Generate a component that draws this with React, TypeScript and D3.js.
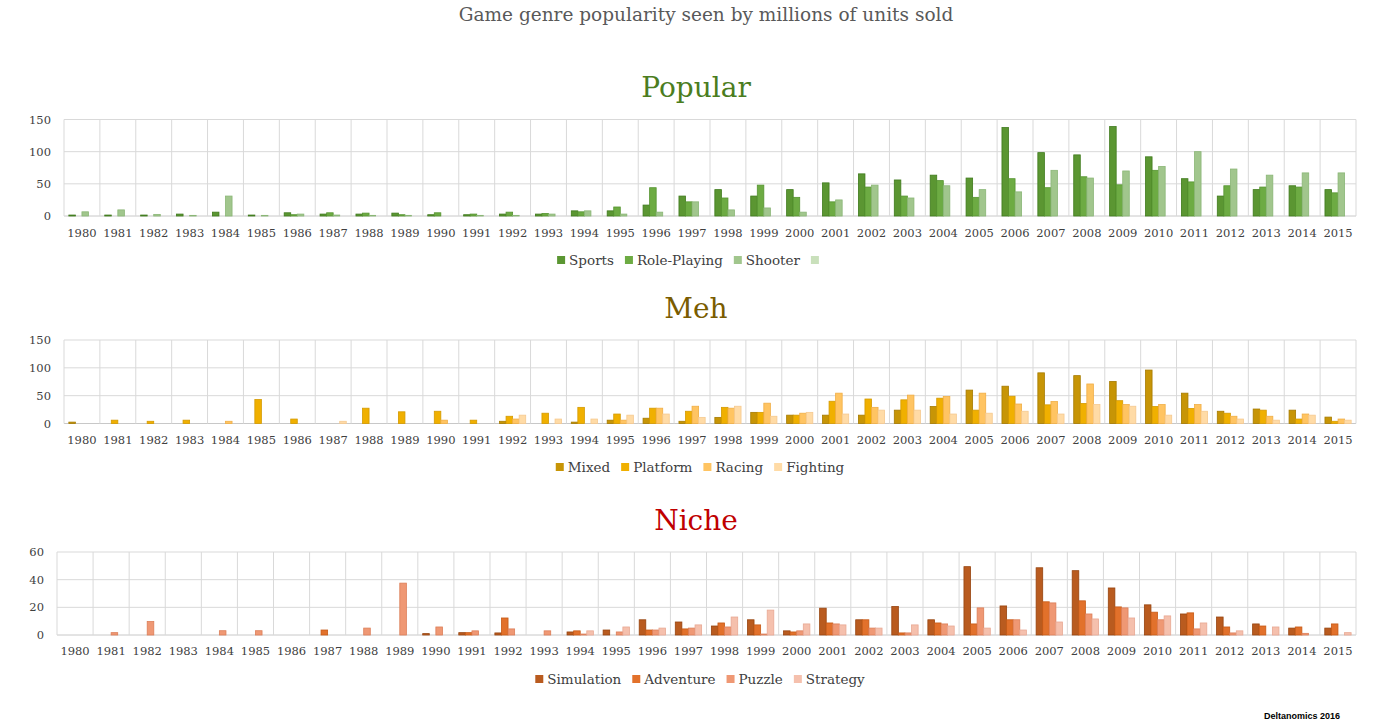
import React from "react";
import * as d3 from "d3";

const years = d3.range(1980, 2016).map(String);

// Popular
const sports = [1.5,1.5,1.5,3,6,1.5,5,3,3,4.5,2,2,3,3,8,8,17,31,41,31,41,51.5,65.5,56,63.5,59,137.5,98.5,95,139,92,58,31,41,47,41];
const rolePlaying = [0,0,0,0,0,0,2,5,4.5,2,5,3,6,4,6.5,14,44,22,28,48,29,22,45,31,55,29,58,44,61,48.5,71,53,47,45,45,36];
const shooter = [6.5,9.5,2.5,1,31,1,3,1.5,1,1,0,1,1,3,8,3,6,22,9.5,12.5,6,25,48,28,47,41,37.5,71,59,70,77,100,73,63.5,67,67];
const popularBlank = years.map(() => 0);

// Meh
const mixed = [2.5,0,0,0,0,0,0,0,0,0,0,0,4,0,2.5,6,9.5,4,11,20,15,15,15,24,30.5,60,67,91,86,75.5,96,54.5,22,26,24,11.5];
const platform = [0,6,4,6,0,43,8,0,27.5,21,22,6,13,18.5,29,17,27.5,22,29,20,15,40,44,42.5,45.5,24,49,33.5,36,41,30.5,27,18.5,24,8,4];
const racing = [0,0,0,0,4,0,0,0,0,0,6,0,8,0,0,6,27.5,31,27.5,36.5,18.5,54.5,29,51,48.5,54.5,35,39.5,71,34,34,34,13,13,17,8];
const fighting = [0,0,0,0,0,0,0,4,0,0,0,0,15,8,8,15,17,11,31,13,20,17,24,24,17,18.5,22,17,34,31,15,22,8,6,15,6];

// Niche
const simulation = [0,0,0,0,0,0,0,0,0,0,1,1.7,1.5,0,2.2,3.6,11,9.4,6.5,11,3,19.4,11,20.6,11,49.4,21,48.6,46.5,34,21.8,15.2,13,8,5,5];
const adventure = [0,0,0,0,0,0,0,3.6,0,0,0,1.7,12.3,0,3,0,3.6,4.4,8.7,7.3,2.2,8.7,11,1.5,8.7,8,11,24,24.7,20.3,16.5,16,5.8,6.5,5.8,8];
const puzzle = [0,1.7,9.7,0,3.1,3.1,0,0,5,37.5,5.8,3,4.4,3,0.7,2.2,3.6,5,5.8,0.7,3,8,5,1.5,8,19.6,11,23.2,15.2,19.6,11,4.4,1.5,0,1.2,0];
const strategy = [0,0,0,0,0,0,0,0,0,0,0,0,0,0,3,5.8,5,7.3,13,18,8,7.3,5,7.3,6.5,5,3.6,9.4,11.6,12.3,13.8,8.7,3,5.8,0,1.7];

const popularNames = ["Sports", "Role-Playing", "Shooter", ""];
const mehNames = ["Mixed", "Platform", "Racing", "Fighting"];
const nicheNames = ["Simulation", "Adventure", "Puzzle", "Strategy"];

const popularTicks = [0, 50, 100, 150];
const mehTicks = [0, 50, 100, 150];
const nicheTicks = [0, 20, 40, 60];

const FONT = "'DejaVu Serif', serif";

type Panel = {
  title: string;
  titleColor: string;
  titleY: number;
  names: string[];
  values: number[][];
  colors: string[];
  strokes: string[];
  ticks: number[];
  left: number;
  top: number;
  bottom: number;
  yearY: number;
  legendY: number;
};

const panels: Panel[] = [
  {
    title: "Popular", titleColor: "#4b7d1e", titleY: 97,
    names: popularNames, values: [sports, rolePlaying, shooter, popularBlank],
    colors: ["#5b9632", "#6dab43", "#a1c68d", "#c9e0bb"],
    strokes: ["#3f7a1c", "#559430", "#8ab676", "#b5d3a4"],
    ticks: popularTicks, left: 64, top: 119.5, bottom: 216, yearY: 237, legendY: 260,
  },
  {
    title: "Meh", titleColor: "#7a5c00", titleY: 318,
    names: mehNames, values: [mixed, platform, racing, fighting],
    colors: ["#c79506", "#f0b000", "#ffc462", "#ffdba6"],
    strokes: ["#a67b00", "#d49a00", "#f0ae45", "#f5c98f"],
    ticks: mehTicks, left: 64, top: 340, bottom: 423.5, yearY: 444, legendY: 467,
  },
  {
    title: "Niche", titleColor: "#c00000", titleY: 530,
    names: nicheNames, values: [simulation, adventure, puzzle, strategy],
    colors: ["#b95b1f", "#e2712b", "#ef9874", "#f5c0ad"],
    strokes: ["#97440f", "#c75a15", "#dc7e58", "#e8a893"],
    ticks: nicheTicks, left: 57, top: 552, bottom: 635, yearY: 655, legendY: 679,
  },
];

const RIGHT = 1356;

let ctx: CanvasRenderingContext2D | null = null;
function textWidth(s: string, font: string) {
  if (!ctx) ctx = document.createElement("canvas").getContext("2d");
  if (!ctx) return s.length * 7;
  ctx.font = font;
  return ctx.measureText(s).width;
}

function PanelChart({ p }: { p: Panel }) {
  const x = d3.scaleBand<string>().domain(years).range([p.left, RIGHT]).padding(0);
  const bw = x.bandwidth();
  const sub = d3.scaleBand<number>().domain([0, 1, 2, 3]).range([bw * 0.135, bw * 0.865]).padding(0);
  const max = p.ticks[p.ticks.length - 1];
  const y = d3.scaleLinear().domain([0, max]).range([p.bottom, p.top]);

  // legend layout
  const legSize = 13.5;
  const legFont = `${legSize}px ${FONT}`;
  const items = p.names.map((n) => ({ n, w: 12 + (n ? textWidth(n, legFont) : 20) }));
  const gap = 11;
  const total = items.reduce((a, b) => a + b.w, 0) + gap * (items.length - 1);
  let cx = 700 - total / 2;
  const legPos = items.map((it) => {
    const pos = cx;
    cx += it.w + gap;
    return pos;
  });

  return (
    <g>
      <text x={696} y={p.titleY} textAnchor="middle" fontFamily={FONT} fontSize={28} fill={p.titleColor}>
        {p.title}
      </text>
      {/* grid */}
      {p.ticks.map((t) => (
        <line key={"h" + t} x1={p.left} x2={RIGHT} y1={y(t)} y2={y(t)} stroke={t === 0 ? "#c8c8c8" : "#d9d9d9"} strokeWidth={1} />
      ))}
      {years.map((yr) => (
        <line key={"v" + yr} x1={x(yr)!} x2={x(yr)!} y1={p.top} y2={p.bottom} stroke="#d9d9d9" strokeWidth={1} />
      ))}
      <line x1={RIGHT} x2={RIGHT} y1={p.top} y2={p.bottom} stroke="#d9d9d9" strokeWidth={1} />
      {/* y tick labels */}
      {p.ticks.map((t) => (
        <text key={"t" + t} x={p.left - 13} y={y(t) + 4} textAnchor="end" fontFamily={FONT} fontSize={11.5} fill="#404040">
          {t}
        </text>
      ))}
      {/* bars */}
      {p.values.map((series, si) =>
        series.map((v, i) =>
          v > 0 ? (
            <rect
              key={si + "-" + i}
              x={x(years[i])! + sub(si)!}
              y={y(v)}
              width={sub.bandwidth()}
              height={p.bottom - y(v)}
              fill={p.colors[si]}
              stroke={p.strokes[si]}
              strokeWidth={0.8}
            />
          ) : null
        )
      )}
      {/* year labels */}
      {years.map((yr) => (
        <text key={"y" + yr} x={x(yr)! + bw / 2} y={p.yearY} textAnchor="middle" fontFamily={FONT} fontSize={11.5} fill="#404040">
          {yr}
        </text>
      ))}
      {/* legend */}
      {items.map((it, i) => (
        <g key={"l" + i}>
          <rect x={legPos[i]} y={p.legendY - 4} width={8} height={8} fill={p.colors[i]} />
          {it.n ? (
            <text x={legPos[i] + 12} y={p.legendY + 5} fontFamily={FONT} fontSize={legSize} fill="#404040">
              {it.n}
            </text>
          ) : null}
        </g>
      ))}
    </g>
  );
}

export default function App() {
  return (
    <svg
      width={1400}
      height={728}
      style={{ position: "absolute", left: 0, top: 0, background: "#ffffff" }}
    >
      <rect x={0} y={0} width={1400} height={728} fill="#ffffff" />
      <text x={706} y={21} textAnchor="middle" fontFamily={FONT} fontSize={18.5} fill="#595959">
        Game genre popularity seen by millions of units sold
      </text>
      {panels.map((p) => (
        <PanelChart key={p.title} p={p} />
      ))}
      <text x={1340} y={719} textAnchor="end" fontFamily="'Liberation Sans', Arial, sans-serif" fontSize={9} fontWeight="bold" fill="#000">
        Deltanomics 2016
      </text>
    </svg>
  );
}
